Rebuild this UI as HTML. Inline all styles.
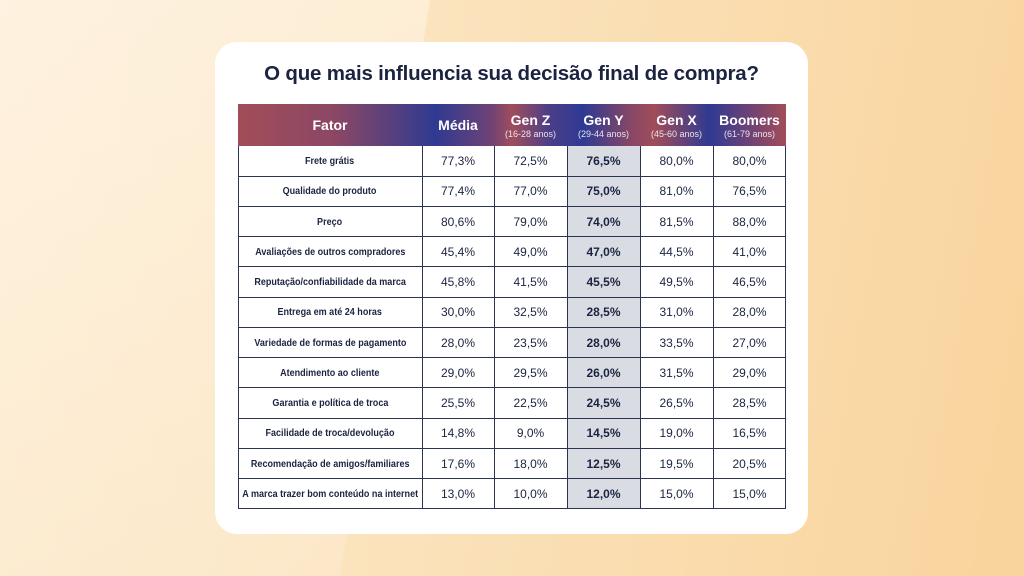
<!DOCTYPE html>
<html><head><meta charset="utf-8">
<style>
*{margin:0;padding:0;box-sizing:border-box}
html,body{width:1024px;height:576px;overflow:hidden}
body{position:relative;font-family:"Liberation Sans",sans-serif;
background:linear-gradient(100deg,#fdeed6 0%,#fbe3bd 40%,#f9d49c 100%);}
.shape{position:absolute;left:0;top:0;width:1024px;height:576px;background:linear-gradient(160deg,#fef4e4,#fce6c4);clip-path:polygon(0 0,430px 0,340px 576px,0 576px);opacity:.7}
.card{position:absolute;left:215px;top:42px;width:593px;height:492px;background:#fff;border-radius:22px}
.title{position:absolute;left:215px;top:62px;width:593px;text-align:center;font-size:20.5px;font-weight:bold;color:#1c2340;letter-spacing:-0.2px}
.hdr{position:absolute;left:238px;top:104px;width:548px;height:42px;
background:linear-gradient(90deg,#a24d58 0%,#8a4765 18%,#2f3a92 36%,#6d4276 46%,#9f4d5c 50%,#4a3d88 57%,#2e3a93 63%,#8a4765 72%,#a04d5a 76%,#2f3a92 86%,#6b4276 93%,#a24d58 100%)}
.h{position:absolute;top:104px;height:42px;color:#fff;text-align:center;display:flex;flex-direction:column;justify-content:center;font-weight:bold;font-size:14px}
.h small{font-weight:normal;font-size:9px;opacity:.85;margin-top:1px}
.gy{position:absolute;left:567px;top:146px;width:73px;height:363px;background:#d9dde3}
.c{position:absolute;height:30px;display:flex;align-items:center;justify-content:center;color:#1c2340;font-size:12px}
.l span{display:inline-block;font-weight:bold;font-size:10.5px;transform:scaleX(.86);white-space:nowrap}
.b{font-weight:bold}
.vl{position:absolute;top:146px;width:1px;height:363px;background:#2b3450}
.hl{position:absolute;left:238px;width:548px;height:1px;background:#2b3450}
</style></head><body>
<div class="shape"></div>
<div class="card"></div>
<div class="title">O que mais influencia sua decisão final de compra?</div>
<div class="hdr"></div>
<div class="h" style="left:238px;width:184px">Fator</div>
<div class="h" style="left:422px;width:72px">Média</div>
<div class="h" style="left:494px;width:73px">Gen Z<small>(16-28 anos)</small></div>
<div class="h" style="left:567px;width:73px">Gen Y<small>(29-44 anos)</small></div>
<div class="h" style="left:640px;width:73px">Gen X<small>(45-60 anos)</small></div>
<div class="h" style="left:713px;width:73px">Boomers<small>(61-79 anos)</small></div>
<div class="gy"></div>
<div id="rows"></div>
<script>
var d=[["Frete grátis","77,3%","72,5%","76,5%","80,0%","80,0%"],
["Qualidade do produto","77,4%","77,0%","75,0%","81,0%","76,5%"],
["Preço","80,6%","79,0%","74,0%","81,5%","88,0%"],
["Avaliações de outros compradores","45,4%","49,0%","47,0%","44,5%","41,0%"],
["Reputação/confiabilidade da marca","45,8%","41,5%","45,5%","49,5%","46,5%"],
["Entrega em até 24 horas","30,0%","32,5%","28,5%","31,0%","28,0%"],
["Variedade de formas de pagamento","28,0%","23,5%","28,0%","33,5%","27,0%"],
["Atendimento ao cliente","29,0%","29,5%","26,0%","31,5%","29,0%"],
["Garantia e política de troca","25,5%","22,5%","24,5%","26,5%","28,5%"],
["Facilidade de troca/devolução","14,8%","9,0%","14,5%","19,0%","16,5%"],
["Recomendação de amigos/familiares","17,6%","18,0%","12,5%","19,5%","20,5%"],
["A marca trazer bom conteúdo na internet","13,0%","10,0%","12,0%","15,0%","15,0%"]];
var xs=[238,422,494,567,640,713,786],h="";
d.forEach(function(r,i){var y=146+i*30.25;
r.forEach(function(v,j){h+='<div class="c'+(j==0?' l':'')+(j==3?' b':'')+'" style="left:'+xs[j]+'px;width:'+(xs[j+1]-xs[j])+'px;top:'+y+'px">'+(j==0?'<span>'+v+'</span>':v)+'</div>';});
h+='<div class="hl" style="top:'+(y+29.5)+'px"></div>';});
xs.forEach(function(x,k){h+='<div class="vl" style="left:'+(k==6?x-1:x)+'px"></div>';});
document.getElementById("rows").innerHTML=h;
</script>
</body></html>
